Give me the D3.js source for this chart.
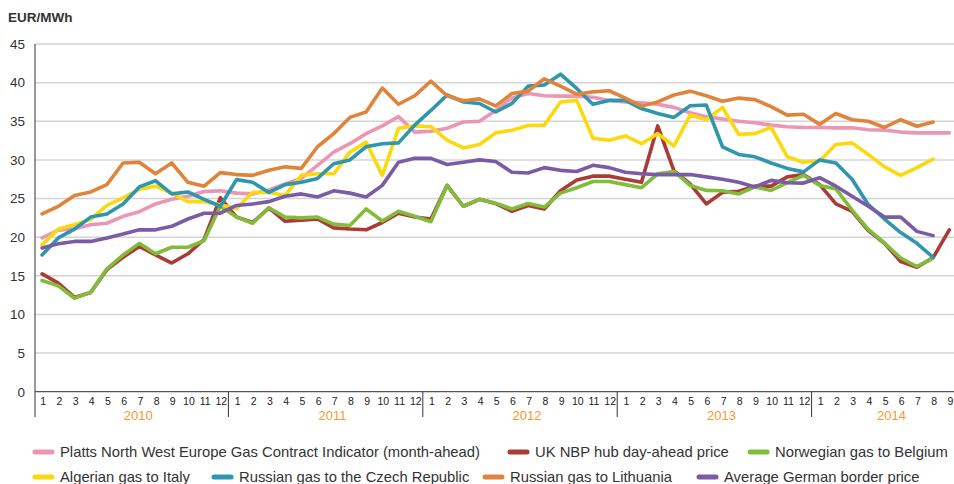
<!DOCTYPE html>
<html>
<head>
<meta charset="utf-8">
<script src="https://cdn.jsdelivr.net/npm/d3@7/dist/d3.min.js"></script>
<style>
body { margin: 0; background: #fff; }
svg { display: block; font-family: "Liberation Sans", Arial, sans-serif; }
</style>
</head>
<body>
<div id="chart"></div>
<script>
// categories
var years = [2010, 2011, 2012, 2013, 2014];
var monthsPerYear = [12, 12, 12, 12, 9];
var yTicks = [0, 5, 10, 15, 20, 25, 30, 35, 40, 45];

// series values, EUR/MWh, one per month from Jan 2010
var platts = [19.9, 20.9, 21.1, 21.6, 21.8, 22.7, 23.3, 24.3, 24.9, 25.3, 25.9, 26.0,
              25.7, 25.6, 26.1, 26.9, 27.6, 29.3, 31.0, 32.1, 33.4, 34.4, 35.6, 33.6,
              33.7, 34.1, 34.9, 35.0, 36.4, 38.0, 38.6, 38.3, 38.25, 38.25, 38.1, 37.7,
              37.5, 37.4, 37.2, 36.8, 36.1, 35.6, 35.3, 35.0, 34.8, 34.5, 34.3, 34.2,
              34.2, 34.15, 34.15, 33.9, 33.85, 33.6, 33.5, 33.5, 33.5];
var ukNbp = [15.25, 14.05, 12.2, 12.85, 15.8, 17.4, 18.8, 17.7, 16.65, 17.85, 19.7, 25.1,
             22.6, 21.9, 23.8, 22.05, 22.2, 22.35, 21.2, 21.05, 20.95, 21.9, 23.1, 22.6,
             22.35, 26.7, 24.0, 24.9, 24.35, 23.35, 24.1, 23.65, 26.0, 27.4, 27.9, 27.9,
             27.5, 27.1, 34.4, 28.6, 26.9, 24.3, 25.8, 25.95, 26.6, 26.6, 27.8, 28.1,
             26.8, 24.3, 23.35, 20.85, 19.2, 16.85, 16.1, 17.35, 20.95];
var norway = [14.4, 13.7, 12.1, 12.85, 15.9, 17.7, 19.2, 17.85, 18.7, 18.7, 19.55, 24.0,
              22.6, 21.8, 23.8, 22.6, 22.5, 22.6, 21.7, 21.5, 23.65, 22.1, 23.35, 22.7,
              22.0, 26.7, 24.0, 24.9, 24.4, 23.65, 24.35, 23.9, 25.7, 26.4, 27.2, 27.2,
              26.8, 26.4, 28.2, 28.5, 26.7, 26.05, 26.0, 25.6, 26.5, 26.05, 27.05, 28.0,
              26.7, 26.25, 23.5, 21.0, 19.25, 17.3, 16.2, 17.3];
var algeria = [19.0, 21.05, 21.6, 22.3, 24.1, 25.1, 26.2, 26.6, 25.7, 24.6, 24.6, 24.2,
               23.7, 25.8, 25.8, 25.4, 28.0, 28.2, 28.2, 31.0, 32.3, 28.0, 34.1, 34.4,
               34.3, 32.55, 31.55, 32.0, 33.5, 33.85, 34.45, 34.5, 37.5, 37.7, 32.8, 32.55,
               33.1, 32.1, 33.4, 31.8, 35.8, 35.2, 36.8, 33.3, 33.4, 34.2, 30.4, 29.7,
               29.9, 32.0, 32.2, 30.7, 29.1, 28.0, 29.0, 30.1];
var czech = [17.7, 19.9, 21.05, 22.6, 23.0, 24.3, 26.5, 27.3, 25.6, 25.85, 24.9, 24.0,
             27.45, 27.1, 25.8, 26.8, 27.1, 27.6, 29.5, 30.0, 31.7, 32.1, 32.2, 34.5,
             36.4, 38.4, 37.5, 37.3, 36.2, 37.3, 39.55, 39.7, 41.1, 39.25, 37.2, 37.7,
             37.7, 36.65, 36.0, 35.5, 37.0, 37.1, 31.7, 30.7, 30.4, 29.6, 28.9, 28.45,
             30.0, 29.6, 27.5, 24.2, 22.35, 20.6, 19.2, 17.4];
var lithuania = [23.0, 24.0, 25.4, 25.85, 26.8, 29.6, 29.7, 28.2, 29.6, 27.1, 26.6, 28.35,
                 28.1, 28.0, 28.65, 29.1, 28.9, 31.7, 33.4, 35.5, 36.2, 39.3, 37.2, 38.3,
                 40.2, 38.3, 37.65, 37.9, 37.0, 38.6, 38.9, 40.5, 39.55, 38.5, 38.8, 38.95,
                 38.0, 36.96, 37.5, 38.4, 38.9, 38.3, 37.6, 38.0, 37.8, 36.9, 35.8, 35.9,
                 34.6, 36.0, 35.2, 35.0, 34.2, 35.2, 34.35, 34.9];
var german = [18.6, 19.15, 19.45, 19.45, 19.9, 20.4, 20.95, 20.95, 21.4, 22.35, 23.1, 23.1,
              24.1, 24.3, 24.6, 25.3, 25.6, 25.2, 26.0, 25.7, 25.2, 26.7, 29.7, 30.2,
              30.2, 29.4, 29.7, 30.0, 29.8, 28.4, 28.3, 29.0, 28.65, 28.5, 29.3, 29.0,
              28.4, 28.2, 28.1, 28.1, 28.1, 27.8, 27.5, 27.1, 26.5, 27.35, 27.05, 27.0,
              27.7, 26.6, 25.3, 24.0, 22.6, 22.6, 20.75, 20.2];

var seriesNames = ["Platts North West Europe Gas Contract Indicator (month-ahead)",
                   "UK NBP hub day-ahead price", "Norwegian gas to Belgium",
                   "Algerian gas to Italy", "Russian gas to the Czech Republic",
                   "Russian gas to Lithuania", "Average German border price"];
var seriesValues = [platts, ukNbp, norway, algeria, czech, lithuania, german];

var cfg = {
    width: 954,
    height: 484,
    left: 34,
    step: 16.2,
    top: 44,
    bottom: 391.7,
    colors: ["#ea97b6", "#aa3b36", "#82bc3b", "#fcd80f", "#2f97ad", "#e1843b", "#7c5ba6"],
    // legend slots: [row, swatch x]
    legend: [[0, 33], [0, 508], [0, 748], [1, 33], [1, 212], [1, 483], [1, 697]],
    legendRowY: [452, 477]
};

// month categories
var months = [];
years.forEach(function(yr, i){
    for (var m = 1; m <= monthsPerYear[i]; m++) {
        months.push({key: yr + "-" + m, year: yr, month: m});
    }
});

var x = d3.scaleBand()
    .domain(months.map(function(d){ return d.key; }))
    .range([cfg.left, cfg.left + cfg.step * months.length]);

var y = d3.scaleLinear()
    .domain([0, 45])
    .range([cfg.bottom, cfg.top]);

var svg = d3.select("#chart").append("svg")
    .attr("width", cfg.width)
    .attr("height", cfg.height);

// gridlines
svg.append("g")
    .selectAll("line")
    .data(yTicks.filter(function(d){ return d > 0; }))
    .enter().append("line")
    .attr("x1", 35)
    .attr("x2", cfg.width)
    .attr("y1", function(d){ return y(d); })
    .attr("y2", function(d){ return y(d); })
    .attr("stroke", "#d4d4d4")
    .attr("stroke-width", 1.5);

// y axis
var yAxis = d3.axisLeft(y)
    .tickValues(yTicks)
    .tickSize(0)
    .tickPadding(10);

var gy = svg.append("g")
    .attr("transform", "translate(35,0)")
    .call(yAxis);
gy.select(".domain").remove();
gy.selectAll("text")
    .attr("fill", "#333")
    .style("font-size", "13.5px");

// x axis with month numbers
var xAxis = d3.axisBottom(x)
    .tickSize(0)
    .tickPadding(6)
    .tickFormat(function(d){ return d.split("-")[1]; });

var gx = svg.append("g")
    .attr("transform", "translate(0," + cfg.bottom + ")")
    .call(xAxis);
gx.select(".domain").remove();
gx.selectAll("text")
    .attr("fill", "#222")
    .attr("dx", "0.1em")
    .style("font-size", "10.5px");

// axis lines
svg.append("line")
    .attr("x1", 35).attr("x2", 35)
    .attr("y1", cfg.top).attr("y2", 417)
    .attr("stroke", "#555").attr("stroke-width", 1.2);
svg.append("line")
    .attr("x1", 35).attr("x2", cfg.width)
    .attr("y1", cfg.bottom).attr("y2", cfg.bottom)
    .attr("stroke", "#555").attr("stroke-width", 1.2);

// year separators and labels
var yearStarts = years.map(function(yr){ return x(yr + "-1"); });
svg.append("g")
    .selectAll("line")
    .data(yearStarts.slice(1))
    .enter().append("line")
    .attr("x1", function(d){ return d; })
    .attr("x2", function(d){ return d; })
    .attr("y1", cfg.bottom)
    .attr("y2", 417)
    .attr("stroke", "#333")
    .attr("stroke-width", 1);

svg.append("g")
    .selectAll("text")
    .data(years)
    .enter().append("text")
    .attr("x", function(d, i){
        var first = x(d + "-1"), last = x(d + "-" + monthsPerYear[i]) + x.bandwidth();
        return (first + last) / 2 + 7;
    })
    .attr("y", 420)
    .attr("text-anchor", "middle")
    .attr("fill", "#f39a32")
    .style("font-size", "13px")
    .text(function(d){ return d; });

// unit label
svg.append("text")
    .attr("x", 8)
    .attr("y", 22)
    .attr("fill", "#333")
    .style("font-size", "13.5px")
    .style("font-weight", "bold")
    .text("EUR/MWh");

// lines
var line = d3.line()
    .x(function(d, i){ return x(months[i].key) + x.bandwidth() / 2; })
    .y(function(d){ return y(d); });

svg.append("g")
    .selectAll("path")
    .data(seriesValues)
    .enter().append("path")
    .attr("d", line)
    .attr("fill", "none")
    .attr("stroke", function(d, i){ return cfg.colors[i]; })
    .attr("stroke-width", 3.6)
    .attr("stroke-linejoin", "round")
    .attr("stroke-linecap", "round");

// legend
var legend = svg.selectAll(".legend")
    .data(seriesNames)
    .enter().append("g")
    .attr("class", "legend")
    .attr("transform", function(d, i){
        return "translate(" + cfg.legend[i][1] + "," + cfg.legendRowY[cfg.legend[i][0]] + ")";
    });

legend.append("line")
    .attr("x1", 2).attr("x2", 19)
    .attr("y1", 0).attr("y2", 0)
    .attr("stroke", function(d, i){ return cfg.colors[i]; })
    .attr("stroke-width", 5)
    .attr("stroke-linecap", "round");

legend.append("text")
    .attr("x", 27)
    .attr("y", 0)
    .attr("dy", "0.35em")
    .attr("fill", "#333")
    .style("font-size", "14.8px")
    .text(function(d){ return d; });
</script>
</body>
</html>
